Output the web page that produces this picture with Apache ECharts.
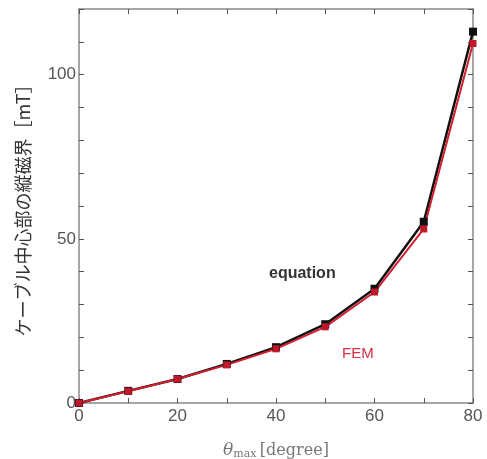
<!DOCTYPE html>
<html>
<head>
<meta charset="utf-8">
<script src="https://cdn.jsdelivr.net/npm/echarts@6/dist/echarts.min.js"></script>
<style>
  html, body { margin: 0; padding: 0; background: #fff; }
  #main { width: 487px; height: 459px; }
</style>
</head>
<body>
<div id="main"></div>
<script>
// 角度 θmax [degree]
const thetaMax = [0, 10, 20, 30, 40, 50, 60, 70, 80];
// 理論式
const equationVals = [0, 3.7, 7.3, 11.9, 17.0, 24.0, 34.8, 55.2, 113.1];
// FEM解析
const femVals = [0, 3.6, 7.3, 11.6, 16.5, 23.2, 33.8, 53.0, 109.5];

const xLabels = [0, 20, 40, 60, 80];
const yLabels = [0, 50, 100];

const chart = echarts.init(document.getElementById('main'));

const frame = { show: true, onZero: false, lineStyle: { color: '#888', width: 1.5 } };
const tickIn = { show: true, inside: true, length: 5, lineStyle: { color: '#555', width: 1 } };

const option = {
  animation: false,
  backgroundColor: '#fff',
  grid: { left: 79, right: 14, top: 9, bottom: 56, outerBoundsMode: 'none' },
  xAxis: [
    {
      type: 'value', min: 0, max: 80, interval: 10,
      axisLine: frame, axisTick: tickIn, splitLine: { show: false },
      axisLabel: {
        color: '#555', fontSize: 17, fontFamily: 'Liberation Sans', margin: 5,
        formatter: v => xLabels.includes(v) ? String(v) : ''
      },
      name: '{t|θ}{s|max} {n|[degree]}',
      nameLocation: 'middle', nameGap: 38,
      nameTextStyle: {
        rich: {
          t: { fontFamily: 'DejaVu Serif', fontStyle: 'italic', fontSize: 17, color: '#777' },
          s: { fontFamily: 'DejaVu Serif', fontSize: 11, color: '#777', verticalAlign: 'bottom', padding: [8, 0, 0, 0] },
          n: { fontFamily: 'DejaVu Serif', fontSize: 16, color: '#777' }
        }
      }
    },
    {
      type: 'value', min: 0, max: 80, interval: 10, position: 'top',
      axisLine: frame, axisTick: tickIn, axisLabel: { show: false }, splitLine: { show: false }
    }
  ],
  yAxis: [
    {
      type: 'value', min: 0, max: 120, interval: 10,
      axisLine: frame, axisTick: tickIn, splitLine: { show: false },
      axisLabel: {
        color: '#555', fontSize: 17, fontFamily: 'Liberation Sans', margin: 3,
        formatter: v => yLabels.includes(v) ? String(v) : ''
      },
      name: 'ケーブル中心部の縦磁界［mT］',
      nameLocation: 'middle', nameGap: 47, nameRotate: 90,
      nameTextStyle: { fontFamily: 'Noto Sans CJK JP', fontSize: 18, color: '#333' }
    },
    {
      type: 'value', min: 0, max: 120, interval: 10, position: 'right',
      axisLine: frame, axisTick: tickIn, axisLabel: { show: false }, splitLine: { show: false }
    }
  ],
  series: [
    {
      name: 'equation', type: 'line',
      data: thetaMax.map((t, i) => [t, equationVals[i]]),
      symbol: 'rect', symbolSize: 8,
      lineStyle: { color: '#111', width: 2.5 },
      itemStyle: { color: '#111' }
    },
    {
      name: 'FEM', type: 'line',
      data: thetaMax.map((t, i) => [t, femVals[i]]),
      symbol: 'rect', symbolSize: 7,
      lineStyle: { color: '#d21f2f', width: 2 },
      itemStyle: { color: '#c0182a' }
    }
  ],
  graphic: [
    {
      type: 'text', left: 269, top: 266,
      style: { text: 'equation', fill: '#333', fontSize: 16, fontWeight: 'bold', fontFamily: 'Liberation Sans' }
    },
    {
      type: 'text', left: 342, top: 346,
      style: { text: 'FEM', fill: '#d03040', fontSize: 15, fontFamily: 'Liberation Sans' }
    }
  ]
};

chart.setOption(option);
</script>
</body>
</html>
